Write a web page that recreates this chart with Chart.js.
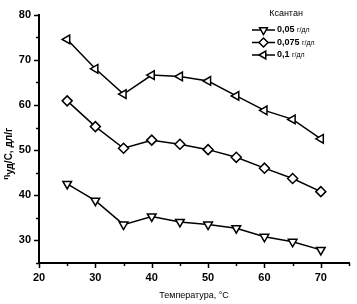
<!DOCTYPE html>
<html>
<head>
<meta charset="utf-8">
<script src="https://cdn.jsdelivr.net/npm/chart.js@4"></script>
<style>
  html, body { margin: 0; padding: 0; background: #fff; }
  #wrap { width: 357px; height: 304px; }
</style>
</head>
<body>
<div id="wrap"><canvas id="chart" width="357" height="304"></canvas></div>
<script>
// temperatures, °C
const temps = [25, 30, 35, 40, 45, 50, 55, 60, 65, 70];
// reduced viscosity, dl/g, for each xanthan concentration
const visc005 = [42.5, 38.8, 33.5, 35.3, 34.1, 33.5, 32.7, 30.8, 29.7, 27.9];
const visc0075 = [60.9, 55.2, 50.4, 52.2, 51.3, 50.1, 48.4, 46.0, 43.7, 40.8];
const visc01 = [74.5, 68.0, 62.4, 66.6, 66.3, 65.3, 62.0, 58.8, 56.8, 52.5];
const seriesNums = ['0,05', '0,075', '0,1'];
const seriesUnit = 'г/дл';
const legendTitle = 'Ксантан';
const xTitle = 'Температура, °С';

const FONT = '"Liberation Sans", Arial, sans-serif';

function pts(vals) { return temps.map((t, i) => ({ x: t, y: vals[i] })); }

function ds(vals, label, style, rot) {
    return {
        label: label, data: pts(vals),
        borderColor: '#000', borderWidth: 1.5,
        pointStyle: style, pointRotation: rot,
        pointRadius: 5, pointBackgroundColor: '#fff',
        pointBorderColor: '#000', pointBorderWidth: 1.5,
        tension: 0
    };
}

// draws major/minor tick marks, y title with subscript, and the inside legend
const extras = {
    id: 'extras',
    afterDraw(chart) {
        const ctx = chart.ctx;
        const xs = chart.scales.x, ys = chart.scales.y;
        const area = chart.chartArea;
        ctx.save();
        ctx.strokeStyle = '#000';
        ctx.lineWidth = 1.5;
        for (let v = 25; v <= 80; v += 5) {
            const y = Math.round(ys.getPixelForValue(v)) + 0.5;
            const len = v % 10 === 0 ? 5 : 3;
            ctx.beginPath(); ctx.moveTo(area.left - len, y); ctx.lineTo(area.left, y); ctx.stroke();
        }
        for (let v = 20; v <= 75; v += 5) {
            const x = Math.round(xs.getPixelForValue(v)) + 0.5;
            const len = v % 10 === 0 ? 5 : 3;
            ctx.beginPath(); ctx.moveTo(x, area.bottom); ctx.lineTo(x, area.bottom + len); ctx.stroke();
        }

        // y axis title: ηуд/С, дл/г
        ctx.fillStyle = '#000';
        ctx.translate(9, (area.top + area.bottom) / 2 + 15);
        ctx.rotate(-Math.PI / 2);
        ctx.textBaseline = 'middle';
        const parts = [['η', 'bold 8px ' + FONT, -3], ['уд', 'bold 10px ' + FONT, 1], ['/С, дл/г', 'bold 10px ' + FONT, 0]];
        let w = 0;
        parts.forEach(p => { ctx.font = p[1]; w += ctx.measureText(p[0]).width; });
        let cx = -w / 2;
        parts.forEach(p => { ctx.font = p[1]; ctx.fillText(p[0], cx, p[2]); cx += ctx.measureText(p[0]).width; });
        ctx.restore();

        // legend
        ctx.save();
        ctx.fillStyle = '#000';
        ctx.font = '9px ' + FONT;
        ctx.textAlign = 'center';
        ctx.textBaseline = 'middle';
        ctx.fillText(legendTitle, 286, 14);
        ctx.textAlign = 'left';
        chart.data.datasets.forEach((d, i) => {
            const y = 30 + i * 12.5;
            ctx.strokeStyle = '#000';
            ctx.lineWidth = 1.5;
            ctx.beginPath(); ctx.moveTo(252, y); ctx.lineTo(275, y); ctx.stroke();
            ctx.fillStyle = '#fff';
            Chart.helpers.drawPoint(ctx, { pointStyle: d.pointStyle, rotation: d.pointRotation, radius: 4.5, borderWidth: 1.5 }, 263.5, y);
            ctx.fillStyle = '#000';
            ctx.font = 'bold 9px ' + FONT;
            ctx.fillText(seriesNums[i], 277, y);
            const nw = ctx.measureText(seriesNums[i] + ' ').width;
            ctx.font = '7px ' + FONT;
            ctx.fillText(seriesUnit, 277 + nw, y + 0.5);
        });
        ctx.restore();
    }
};

new Chart(document.getElementById('chart'), {
    type: 'line',
    data: {
        datasets: [
            ds(visc005, seriesNums[0] + ' ' + seriesUnit, 'triangle', 180),
            ds(visc0075, seriesNums[1] + ' ' + seriesUnit, 'rectRot', 0),
            ds(visc01, seriesNums[2] + ' ' + seriesUnit, 'triangle', -90)
        ]
    },
    options: {
        responsive: false,
        animation: false,
        layout: { padding: { top: 10, right: 5, left: 0, bottom: 0 } },
        plugins: { legend: { display: false }, tooltip: { enabled: false } },
        scales: {
            x: {
                type: 'linear', min: 20, max: 75,
                grid: { display: false, drawTicks: false },
                border: { display: true, color: '#000', width: 2 },
                ticks: {
                    stepSize: 5, padding: 8, color: '#000', maxRotation: 0,
                    font: { family: FONT, size: 11, weight: 'bold' },
                    callback: v => (v % 10 === 0 && v <= 70) ? v : ''
                },
                title: { display: true, text: xTitle, color: '#000', font: { family: FONT, size: 9 }, padding: { top: 2, bottom: 3 } },
                afterFit: s => { s.height = 41; }
            },
            y: {
                min: 25, max: 80,
                grid: { display: false, drawTicks: false },
                border: { display: true, color: '#000', width: 2 },
                ticks: {
                    stepSize: 5, padding: 8, color: '#000',
                    font: { family: FONT, size: 11, weight: 'bold' },
                    callback: v => (v % 10 === 0) ? v : ''
                },
                afterFit: s => { s.width = 39; }
            }
        }
    },
    plugins: [extras]
});
</script>
</body>
</html>
